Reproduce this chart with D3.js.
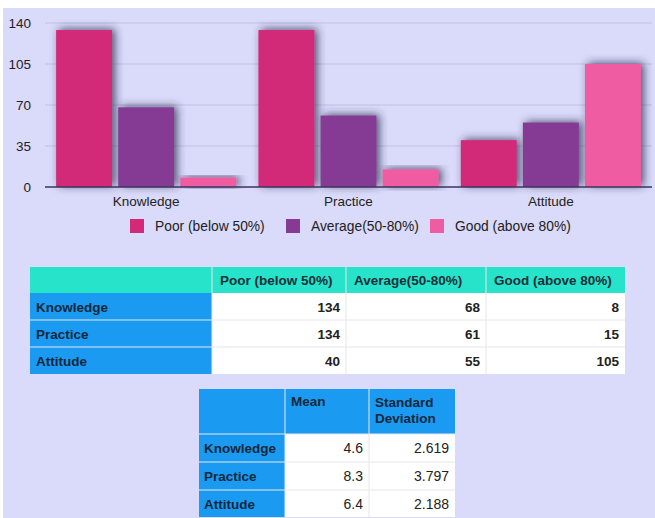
<!DOCTYPE html>
<meta charset="utf-8">
<script src="https://cdn.jsdelivr.net/npm/d3@7"></script>
<style>
 body { margin: 0; background: #fff; }
 text { font-family: "Liberation Sans", Arial, sans-serif; }
</style>
<div id="container"></div>
<script>
 // data
 var categories = ["Knowledge", "Practice", "Attitude"];
 var seriesNames = ["Poor (below 50%)", "Average(50-80%)", "Good (above 80%)"];
 var poor = [134, 134, 40];
 var average = [68, 61, 55];
 var good = [8, 15, 105];
 var yTicks = [0, 35, 70, 105, 140];
 var statHeaders = ["Mean", "Standard Deviation"];
 var means = ["4.6", "8.3", "6.4"];
 var stdDevs = ["2.619", "3.797", "2.188"];

 var width = 655, height = 518;
 var colors = ["#d22a78", "#853b93", "#f05ca2"];
 var series = [poor, average, good];

 var svg = d3.select("#container").append("svg")
     .attr("width", width).attr("height", height);

 var defs = svg.append("defs");
 var f = defs.append("filter").attr("id", "shadow")
     .attr("x", "-20%").attr("y", "-20%").attr("width", "140%").attr("height", "140%");
 f.append("feDropShadow").attr("dx", 3).attr("dy", -1).attr("stdDeviation", 4)
  .attr("flood-color", "#2a2a50").attr("flood-opacity", 0.8);

 // lavender background
 svg.append("rect").attr("x", 3).attr("y", 8).attr("width", width - 3).attr("height", height - 8)
    .attr("fill", "#dadafa");

 // ---- bar chart ----
 var x0 = d3.scaleBand().domain(categories).range([45, 652]).paddingInner(0.11).paddingOuter(0.055);
 var x1 = d3.scaleBand().domain(d3.range(3)).range([0, x0.bandwidth()]).paddingInner(0.1);
 var y = d3.scaleLinear().domain([0, 140]).range([187, 23]);

 svg.append("g").selectAll("line").data(yTicks.slice(1)).enter().append("line")
    .attr("x1", 45).attr("x2", 652)
    .attr("y1", d => y(d)).attr("y2", d => y(d))
    .attr("stroke", "#bfc0e6").attr("stroke-width", 1);

 svg.append("g").selectAll("text").data(yTicks).enter().append("text")
    .attr("x", 31).attr("y", d => y(d) + 5)
    .attr("text-anchor", "end").attr("font-size", 13.5).attr("fill", "#222")
    .text(d => d);

 var groups = svg.append("g").selectAll("g").data(categories).enter().append("g")
     .attr("transform", d => `translate(${x0(d)},0)`);

 groups.selectAll("rect").data((d, i) => series.map((s, k) => ({k: k, v: s[i]})))
    .enter().append("rect")
    .attr("x", d => x1(d.k))
    .attr("y", d => y(d.v))
    .attr("width", x1.bandwidth())
    .attr("height", d => y(0) - y(d.v))
    .attr("fill", d => colors[d.k])
    .attr("filter", "url(#shadow)");

 svg.append("line").attr("x1", 45).attr("x2", 652).attr("y1", y(0)).attr("y2", y(0))
    .attr("stroke", "#3b3560").attr("stroke-width", 1.5);

 svg.append("g").selectAll("text").data(categories).enter().append("text")
    .attr("x", d => x0(d) + x0.bandwidth() / 2).attr("y", 206)
    .attr("text-anchor", "middle").attr("font-size", 13.5).attr("fill", "#222")
    .text(d => d);

 // legend
 var legendX = [130, 286, 430];
 var legend = svg.append("g").selectAll("g").data(seriesNames).enter().append("g")
     .attr("transform", (d, i) => `translate(${legendX[i]},219)`);
 legend.append("rect").attr("width", 14).attr("height", 14).attr("fill", (d, i) => colors[i]);
 legend.append("text").attr("x", 25).attr("y", 12).attr("font-size", 13.8).attr("fill", "#222")
    .text(d => d);

 // ---- table 1 ----
 var t1x = [30, 212, 346, 486, 625];
 var t1y = [267, 293, 320, 347, 374];
 var fs = 13.5;
 var t1 = svg.append("g");
 t1.append("rect").attr("x", t1x[0]).attr("y", t1y[0]).attr("width", t1x[4] - t1x[0])
   .attr("height", t1y[1] - t1y[0]).attr("fill", "#27e3c9");
 t1.selectAll("text.h").data(seriesNames).enter().append("text")
   .attr("x", (d, i) => t1x[i + 1] + 8).attr("y", t1y[0] + 18)
   .attr("font-size", fs).attr("font-weight", "bold").attr("fill", "#17303a")
   .text(d => d);
 categories.forEach(function (c, r) {
   var yy = t1y[r + 1], hh = t1y[r + 2] - t1y[r + 1];
   t1.append("rect").attr("x", t1x[0]).attr("y", yy).attr("width", t1x[1] - t1x[0]).attr("height", hh)
     .attr("fill", "#1a9bf1");
   t1.append("text").attr("x", t1x[0] + 6).attr("y", yy + 19).attr("font-size", fs)
     .attr("font-weight", "bold").attr("fill", "#10283c").text(c);
   series.forEach(function (s, k) {
     t1.append("rect").attr("x", t1x[k + 1]).attr("y", yy).attr("width", t1x[k + 2] - t1x[k + 1]).attr("height", hh)
       .attr("fill", "#fff");
     t1.append("text").attr("x", t1x[k + 2] - 6).attr("y", yy + 19).attr("font-size", fs)
       .attr("font-weight", "bold").attr("text-anchor", "end").attr("fill", "#222").text(s[r]);
   });
 });
 // separators
 t1.selectAll("line.v").data(t1x.slice(1, 4)).enter().append("line")
   .attr("x1", d => d).attr("x2", d => d).attr("y1", t1y[0]).attr("y2", t1y[4])
   .attr("stroke", "#e6e6ee").attr("stroke-width", 1);
 t1.selectAll("line.hz").data(t1y.slice(2, 4)).enter().append("line")
   .attr("x1", t1x[0]).attr("x2", t1x[4]).attr("y1", d => d).attr("y2", d => d)
   .attr("stroke", "#e6e6ee").attr("stroke-width", 1);

 // ---- table 2 ----
 var t2x = [199, 285, 369, 455];
 var t2y = [389, 434, 462, 490, 517];
 var t2 = svg.append("g");
 t2.append("rect").attr("x", t2x[0]).attr("y", t2y[0]).attr("width", t2x[3] - t2x[0])
   .attr("height", t2y[1] - t2y[0]).attr("fill", "#1a9bf1");
 t2.append("text").attr("x", t2x[1] + 6).attr("y", t2y[0] + 17).attr("font-size", fs)
   .attr("font-weight", "bold").attr("fill", "#10283c").text(statHeaders[0]);
 var sd = t2.append("text").attr("x", t2x[2] + 6).attr("y", t2y[0] + 18).attr("font-size", fs)
   .attr("font-weight", "bold").attr("fill", "#10283c");
 sd.append("tspan").attr("x", t2x[2] + 6).text(statHeaders[1].split(" ")[0]);
 sd.append("tspan").attr("x", t2x[2] + 6).attr("dy", 16).text(statHeaders[1].split(" ")[1]);
 categories.forEach(function (c, r) {
   var yy = t2y[r + 1], hh = t2y[r + 2] - t2y[r + 1];
   t2.append("rect").attr("x", t2x[0]).attr("y", yy).attr("width", t2x[1] - t2x[0]).attr("height", hh)
     .attr("fill", "#1a9bf1");
   t2.append("text").attr("x", t2x[0] + 5).attr("y", yy + 19).attr("font-size", fs)
     .attr("font-weight", "bold").attr("fill", "#10283c").text(c);
   [means, stdDevs].forEach(function (s, k) {
     t2.append("rect").attr("x", t2x[k + 1]).attr("y", yy).attr("width", t2x[k + 2] - t2x[k + 1]).attr("height", hh)
       .attr("fill", "#fff");
     t2.append("text").attr("x", t2x[k + 2] - 6).attr("y", yy + 19).attr("font-size", 14)
       .attr("text-anchor", "end").attr("fill", "#222").text(s[r]);
   });
 });
 t2.selectAll("line.v").data(t2x.slice(1, 3)).enter().append("line")
   .attr("x1", d => d).attr("x2", d => d).attr("y1", t2y[0]).attr("y2", t2y[4])
   .attr("stroke", "#e6e6ee").attr("stroke-width", 1);
 t2.selectAll("line.hz").data(t2y.slice(1, 4)).enter().append("line")
   .attr("x1", t2x[0]).attr("x2", t2x[3]).attr("y1", d => d).attr("y2", d => d)
   .attr("stroke", "#e6e6ee").attr("stroke-width", 1);
</script>
